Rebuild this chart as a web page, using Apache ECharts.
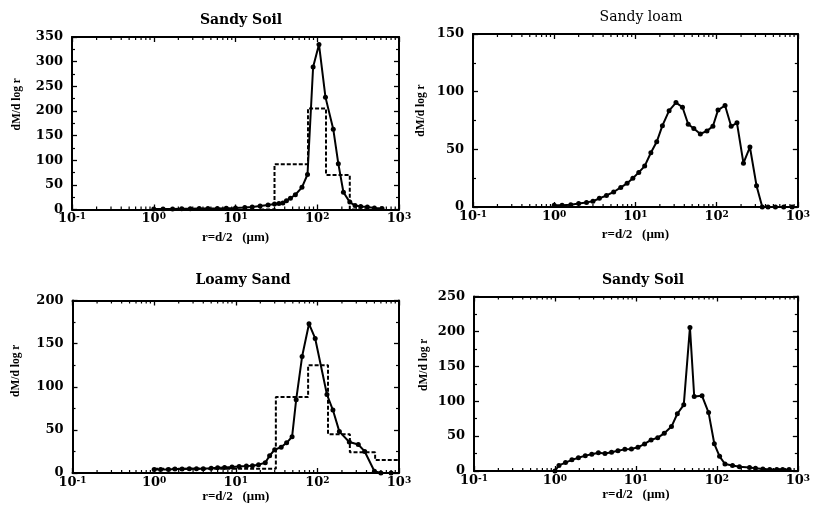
<!DOCTYPE html>
<html>
<head>
<meta charset="utf-8">
<script src="https://cdn.jsdelivr.net/npm/echarts@6/dist/echarts.min.js"></script>
<style>
html,body{margin:0;padding:0;background:#fff;}
#chart{width:813px;height:517px;}
</style>
</head>
<body>
<div id="chart"></div>
<script>
// ---- Data ----
const titles = ['Sandy Soil', 'Sandy loam', 'Loamy Sand', 'Sandy Soil'];
const yMax = [350, 150, 200, 250];
const xAxisName = 'r=d/2   (\u03bcm)';
const yAxisName = 'dM/d log r';
const xMinorMultipliers = [2, 3, 4, 5, 6, 7, 8, 9];
const xDecades = [0.1, 1, 10, 100];

// Panel 1: Sandy Soil (top-left)
const p1R = [1.0,1.3,1.7,2.2,2.8,3.6,4.6,6.0,7.7,10,13,16,20,25,30,34,38,42,47,54,65,76,89,105,126,157,181,209,250,290,340,410,500,620];
const p1M = [1,1,1,1.5,1.5,2,2,2,2.5,3,4,5,7,9,11,12,13,18,23,30,45,71,289,335,228,163,93,35,15,8,6,5,3,2];
const p1StepEdges = [20,30,77,128,250,400];
const p1StepVals  = [0,92,205,70,0];

// Panel 2: Sandy loam (top-right)
const p2R = [1.0,1.25,1.6,2.0,2.5,3.0,3.6,4.4,5.4,6.6,7.9,9.3,11,13,15.5,18.3,21.5,26,31.6,38,44.7,52.4,63,76,90,104,127,151,178,214,257,310,365,430,530,670,850];
const p2M = [1.5,1.5,2,3,4,5,7.5,10,13,17,20.5,25,30,35.5,47,56.5,70.5,83.5,90.5,86.5,71.7,68,63.3,66,70,84,88,70,73,38,52,18.5,0,0,0,0,0];

// Panel 3: Loamy Sand (bottom-left)
const p3R = [1.0,1.2,1.5,1.8,2.2,2.7,3.3,4.0,5.0,6.0,7.3,9.0,11,13.5,16,19,23,26,30,36,42,49,55,65,79,94,131,155,186,246,317,380,500,600,800];
const p3M = [4,4,4,4.5,4.5,5,5,5,5.5,6,6.5,7,7.5,8,8.5,9.5,12,20,27,30,35,42,85,135,173,156,91,73,48,36,33,25,2,0,0];
const p3StepEdges = [1,31,77,135,250,510,1000];
const p3StepVals  = [5,88,125,45,24,15];

// Panel 4: Sandy Soil (bottom-right)
const p4R = [1.0,1.12,1.35,1.62,1.95,2.37,2.85,3.44,4.15,5.0,6.0,7.3,8.8,10.6,12.8,15.4,18.6,22.4,27.5,32.5,39,46.5,52.5,65.6,79,93,108,126,156,190,253,300,370,450,550,650,780];
const p4M = [0,8,12,16,19,22,24,26,25,27,29,31,31.6,34,38.8,44.5,47.8,54,63.6,82,94.8,205.7,106.7,107.7,83.7,39,21,10,8,6,5,4,3,2,2,2,2];

// ---- Layout ----
const grids = [
  {left: 72,  top: 37,    width: 327,   height: 172.5},
  {left: 473, top: 34,    width: 328.5, height: 173},
  {left: 72.5,top: 300.5, width: 326.5, height: 172.5},
  {left: 474, top: 296.5, width: 328.5, height: 174.5}
];
const titlePos = [[236, 8], [636, 5], [238, 268], [638, 268]];
const titleWeight = ['bold', 'normal', 'bold', 'bold'];
const yNameGap = [49, 46, 50, 44];
const yNameShift = [38, 20, 32, 38];
const xNameGap = [22, 21, 17, 17];

const panels = [
  {r: p1R, m: p1M, edges: p1StepEdges, vals: p1StepVals},
  {r: p2R, m: p2M, edges: null, vals: null},
  {r: p3R, m: p3M, edges: p3StepEdges, vals: p3StepVals},
  {r: p4R, m: p4M, edges: null, vals: null}
];

const serif = 'DejaVu Serif';
const black = '#000';

function logAxis(gi, pos, main) {
  return {
    type: 'log', logBase: 10, gridIndex: gi, position: pos,
    min: 0.1, max: 1000,
    axisLine: {show: true, onZero: false, lineStyle: {color: black, width: 2}},
    axisTick: {show: true, inside: true, length: 5, lineStyle: {color: black, width: 1.3}},
    minorTick: {show: false},
    splitLine: {show: false},
    axisLabel: {
      show: main, margin: 3, showMinLabel: true, showMaxLabel: true,
      formatter: function (v) { return '{b|10}{s|' + Math.round(Math.log10(v)) + '}'; },
      rich: {
        b: {fontFamily: serif, fontWeight: 'bold', fontSize: 13, color: black},
        s: {fontFamily: serif, fontWeight: 'bold', fontSize: 9, color: black, verticalAlign: 'top'}
      }
    },
    name: main ? xAxisName : '',
    nameLocation: 'middle', nameGap: xNameGap[gi],
    nameTextStyle: {fontFamily: 'Liberation Serif', fontWeight: 'bold', fontSize: 13, color: black}
  };
}

function valAxis(gi, pos, main) {
  return {
    type: 'value', gridIndex: gi, position: pos,
    min: 0, max: yMax[gi], interval: 50,
    axisLine: {show: true, onZero: false, lineStyle: {color: black, width: 2}},
    axisTick: {show: true, inside: true, length: 5, lineStyle: {color: black, width: 1.3}},
    minorTick: {show: true, splitNumber: 2, length: 3, lineStyle: {color: black, width: 1.2}},
    splitLine: {show: false},
    axisLabel: {show: main, margin: 9, fontFamily: serif, fontWeight: 'bold', fontSize: 13, color: black},
    name: main ? yAxisName : '',
    nameLocation: 'middle', nameGap: yNameGap[gi], nameRotate: 90,
    nameTextStyle: {fontFamily: 'Liberation Serif', fontWeight: 'bold', fontSize: 11.5, color: black,
                    padding: [0, 0, 0, yNameShift[gi]]}
  };
}

// minor tick values of the log axis (2..9 x each decade)
const minorVals = [];
xDecades.forEach(function (d) { xMinorMultipliers.forEach(function (m) { minorVals.push(+(d * m).toPrecision(3)); }); });

const xAxes = [], yAxes = [], series = [];
panels.forEach(function (p, i) {
  xAxes.push(logAxis(i, 'bottom', true));
  xAxes.push(logAxis(i, 'top', false));
  yAxes.push(valAxis(i, 'left', true));
  yAxes.push(valAxis(i, 'right', false));
  const ym = yMax[i];
  series.push({
    type: 'custom', xAxisIndex: 2 * i, yAxisIndex: 2 * i,
    data: minorVals.map(function (v) { return [v]; }),
    clip: false, silent: true, animation: false, z: 1,
    renderItem: function (params, api) {
      const v = api.value(0);
      const b = api.coord([v, 0]);
      const t = api.coord([v, ym]);
      const st = {stroke: black, lineWidth: 1.2};
      return {
        type: 'group',
        children: [
          {type: 'line', shape: {x1: b[0], y1: b[1], x2: b[0], y2: b[1] - 3}, style: st},
          {type: 'line', shape: {x1: t[0], y1: t[1], x2: t[0], y2: t[1] + 3}, style: st}
        ]
      };
    }
  });
  series.push({
    type: 'line', xAxisIndex: 2 * i, yAxisIndex: 2 * i,
    data: p.r.map(function (x, k) { return [x, p.m[k]]; }),
    symbol: 'circle', symbolSize: 5, showSymbol: true,
    lineStyle: {color: black, width: 2},
    itemStyle: {color: black},
    z: 3, animation: false
  });
  if (p.edges) {
    const pts = [];
    p.vals.forEach(function (v, k) {
      pts.push([p.edges[k], v]);
      pts.push([p.edges[k + 1], v]);
    });
    series.push({
      type: 'line', xAxisIndex: 2 * i, yAxisIndex: 2 * i,
      data: pts, showSymbol: false, symbol: 'none',
      lineStyle: {color: black, width: 2, type: [4, 2]},
      z: 2, animation: false
    });
  }
});

const option = {
  backgroundColor: '#fff',
  animation: false,
  title: titles.map(function (t, i) {
    return {
      text: t, left: titlePos[i][0], top: titlePos[i][1], textAlign: 'center',
      textStyle: {fontFamily: serif, fontWeight: titleWeight[i], fontSize: 14, color: black}
    };
  }),
  grid: grids,
  xAxis: xAxes,
  yAxis: yAxes,
  series: series
};

const chart = echarts.init(document.getElementById('chart'), null, {renderer: 'canvas'});
chart.setOption(option);
</script>
</body>
</html>
